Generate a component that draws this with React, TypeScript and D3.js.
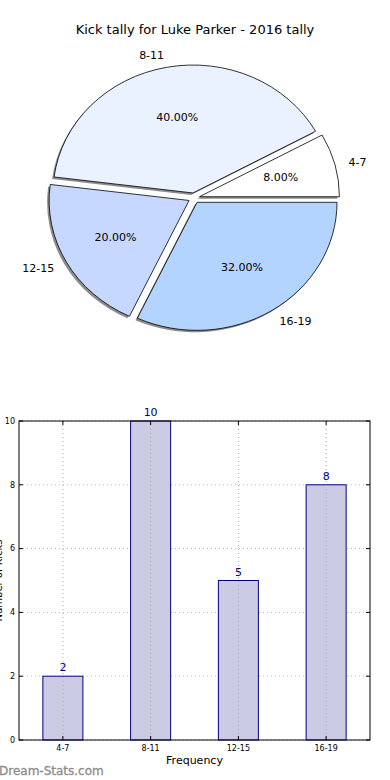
import * as React from 'react';
import * as d3 from 'd3';

const title = 'Kick tally for Luke Parker - 2016 tally';
const categories = ['4-7', '8-11', '12-15', '16-19'];
const counts = [2, 10, 5, 8];
const sliceColors = ['#ffffff', '#eaf1ff', '#c6d8ff', '#b3d4ff'];
const yTicks = [0, 2, 4, 6, 8, 10];
const xLabel = 'Frequency';
const yLabel = 'Number of Kicks';
const watermark = 'Dream-Stats.com';

const W = 390, H = 780;
const font = 'DejaVu Sans, sans-serif';

function PieChart() {
  const cx = 194, cy = 198, rx = 140, ry = 128;
  const explode = 0.04;
  const total = d3.sum(counts);
  // matplotlib goes counterclockwise from 3 o'clock -> d3 angle pi/2 decreasing
  const pie = d3.pie<number>().sort(null).startAngle(Math.PI / 2).endAngle(Math.PI / 2 - 2 * Math.PI);
  const arcs = pie(counts);
  const arc = d3.arc<d3.PieArcDatum<number>>().innerRadius(0).outerRadius(1);

  return (
    <g>
      <text x={W / 2} y={34} textAnchor="middle" fontSize={13} fontFamily={font}>{title}</text>
      {arcs.map((a, i) => {
        const mid = (a.startAngle + a.endAngle) / 2;
        const ux = Math.sin(mid), uy = -Math.cos(mid);
        const ox = cx + explode * ux * rx, oy = cy + explode * uy * ry;
        return (
          <g key={'s' + i} transform={`translate(${ox - 2},${oy + 2}) scale(${rx},${ry})`}>
            <path d={arc(a) || ''} fill="#000" fillOpacity={0.45} stroke="none" />
          </g>
        );
      })}
      {arcs.map((a, i) => {
        const mid = (a.startAngle + a.endAngle) / 2;
        const ux = Math.sin(mid), uy = -Math.cos(mid);
        const ox = cx + explode * ux * rx, oy = cy + explode * uy * ry;
        const lx = ox + 1.1 * ux * rx, ly = oy + 1.1 * uy * ry;
        const px = ox + 0.6 * ux * rx, py = oy + 0.6 * uy * ry;
        const pct = (100 * counts[i] / total).toFixed(2) + '%';
        return (
          <g key={'p' + i}>
            <g transform={`translate(${ox},${oy}) scale(${rx},${ry})`}>
              <path d={arc(a) || ''} fill={sliceColors[i]} stroke="#000" strokeWidth={0.8}
                vectorEffect="non-scaling-stroke" />
            </g>
            <text x={lx} y={ly} dy="0.35em" textAnchor={ux < 0 ? 'end' : 'start'}
              fontSize={11} fontFamily={font}>{categories[i]}</text>
            <text x={px} y={py} dy="0.35em" textAnchor="middle" fontSize={11} fontFamily={font}>{pct}</text>
          </g>
        );
      })}
    </g>
  );
}

function BarChart() {
  const left = 19, right = 370, top = 421, bottom = 740;
  const x = d3.scaleBand<string>().domain(categories).range([left, right])
    .paddingInner(0.544).paddingOuter(0.272);
  const y = d3.scaleLinear().domain([0, 10]).range([bottom, top]);
  const grid = '#b8b8b8';

  return (
    <g>
      {yTicks.map(t => (
        <line key={'gy' + t} x1={left} x2={right} y1={y(t)} y2={y(t)} stroke={grid} strokeDasharray="1,3" />
      ))}
      {categories.map((c, i) => (
        <g key={'b' + c}>
          <rect x={x(c)} y={y(counts[i])} width={x.bandwidth()} height={bottom - y(counts[i])}
            fill="#cbcce4" stroke="#000080" strokeWidth={1} />
          <text x={(x(c) || 0) + x.bandwidth() / 2} y={y(counts[i]) - 5} textAnchor="middle"
            fontSize={11} fill="#000080" fontFamily={font}>{counts[i]}</text>
        </g>
      ))}
      {categories.map(c => {
        const xc = (x(c) || 0) + x.bandwidth() / 2;
        return <line key={'gx' + c} x1={xc} x2={xc} y1={top} y2={bottom} stroke="#a8a8a8" strokeDasharray="1,3" />;
      })}
      <rect x={left} y={top} width={right - left} height={bottom - top} fill="none" stroke="#000" strokeWidth={1} />
      {yTicks.map(t => (
        <g key={'ty' + t}>
          <line x1={left} x2={left + 4} y1={y(t)} y2={y(t)} stroke="#000" />
          <line x1={right - 4} x2={right} y1={y(t)} y2={y(t)} stroke="#000" />
          <text x={left - 4} y={y(t)} dy="0.35em" textAnchor="end" fontSize={8} fontFamily={font}>{t}</text>
        </g>
      ))}
      {categories.map(c => {
        const xc = (x(c) || 0) + x.bandwidth() / 2;
        return (
          <g key={'tx' + c}>
            <line x1={xc} x2={xc} y1={bottom} y2={bottom - 4} stroke="#000" />
            <line x1={xc} x2={xc} y1={top} y2={top + 4} stroke="#000" />
            <text x={xc} y={bottom + 11} textAnchor="middle" fontSize={8} fontFamily={font}>{c}</text>
          </g>
        );
      })}
      <text x={(left + right) / 2} y={bottom + 24} textAnchor="middle" fontSize={11} fontFamily={font}>{xLabel}</text>
      <text transform={`translate(2,${(top + bottom) / 2}) rotate(-90)`} textAnchor="middle"
        fontSize={10} fontFamily={font}>{yLabel}</text>
      <text x={-1} y={775} fontSize={12} fill="#8c8c8c" stroke="#8c8c8c" strokeWidth={0.3}
        fontFamily={font}>{watermark}</text>
    </g>
  );
}

export default function App() {
  return (
    <svg width={W} height={H} style={{ position: 'absolute', left: 0, top: 0, background: '#fff' }}>
      <rect width={W} height={H} fill="#fff" />
      <PieChart />
      <BarChart />
    </svg>
  );
}
